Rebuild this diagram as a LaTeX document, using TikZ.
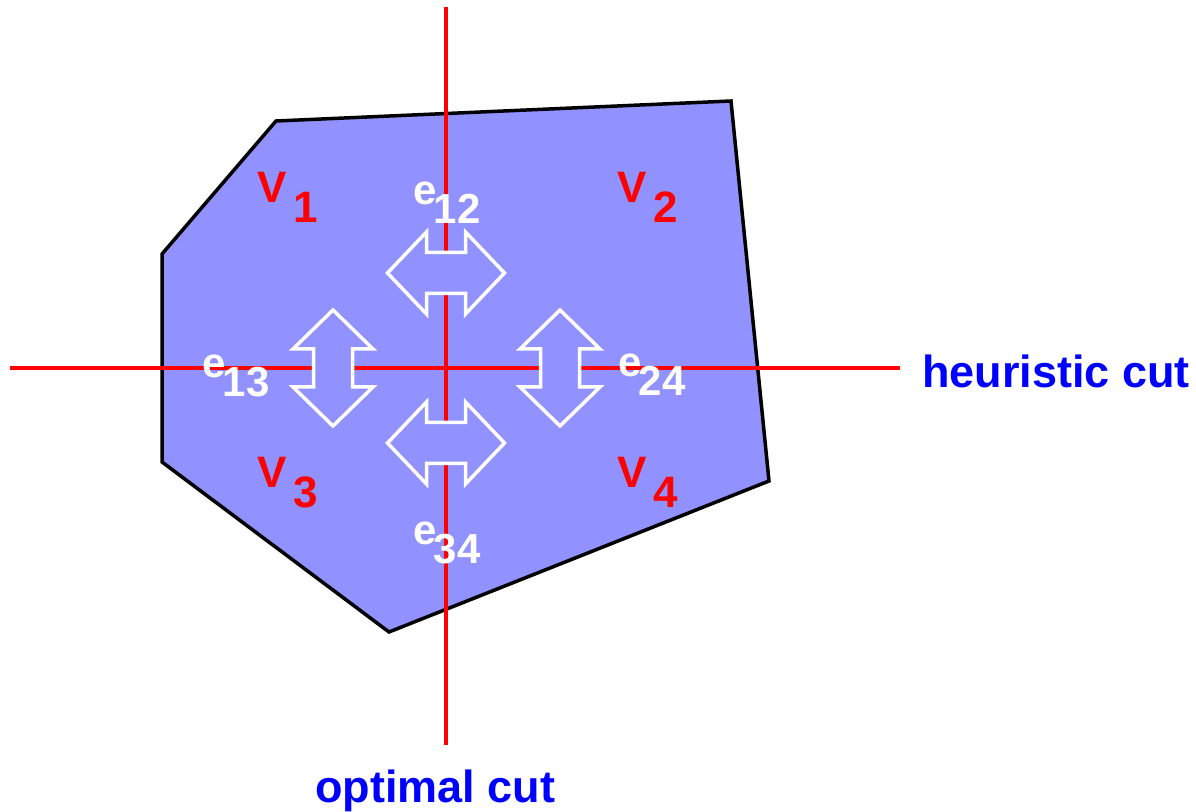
\documentclass[tikz,border=0pt]{standalone}
\usepackage{fontspec}
\setmainfont{Liberation Sans}
\usepackage{tikz}
\definecolor{cutRed}{HTML}{FF0000}
\definecolor{cutBlue}{HTML}{0000FF}
\definecolor{regFill}{HTML}{9191FF}
\tikzset{
  cutline/.style={cutRed,line width=2pt},
  xarrow/.style={draw=white,fill=regFill,line width=1.75pt,line join=miter},
  vlbl/.style={text=cutRed,font=\fontsize{22pt}{25pt}\selectfont\bfseries,anchor=base west,inner sep=0pt},
  elbl/.style={text=white,font=\fontsize{21pt}{24pt}\selectfont\bfseries,anchor=base west,inner sep=0pt},
  cutlbl/.style={text=cutBlue,font=\fontsize{22.5pt}{26pt}\selectfont\bfseries,anchor=base west,inner sep=0pt}
}
\newcommand{\vsub}[2]{#1\hspace{3.5pt}\raisebox{-10pt}{#2}}
\newcommand{\esub}[2]{#1\hspace{-1.5pt}\raisebox{-9.5pt}{#2}}

\begin{document}
\begin{tikzpicture}[x=0.5pt,y=-0.5pt]
\useasboundingbox (0,0) rectangle (1196,812);
% region
\filldraw[fill=regFill,draw=black,line width=1.75pt,line join=miter]
  (276,121) -- (731,101) -- (769,481) -- (389,632) -- (162,462) -- (162,254) -- cycle;
% the two cuts
\coordinate (optTop) at (446,7);
\coordinate (optBot) at (446,745);
\coordinate (heuL) at (10,368);
\coordinate (heuR) at (900,368);
\draw[cutline] (optTop) -- (optBot);
\draw[cutline] (heuL) -- (heuR);
% block arrows
\def\L{58.5}\def\H{19.5}\def\W{41}\def\S{20.5}
\foreach \cy in {273,443}
  \draw[xarrow,shift={(446,\cy)}] (-\L,0) -- (-\H,-\W) -- (-\H,-\S) -- (\H,-\S) -- (\H,-\W) -- (\L,0)
    -- (\H,\W) -- (\H,\S) -- (-\H,\S) -- (-\H,\W) -- cycle;
\def\L{58}\def\H{19}\def\W{40}\def\S{19.5}
\foreach \cx in {333,560}
  \draw[xarrow,shift={(\cx,368)}] (0,-\L) -- (-\W,-\H) -- (-\S,-\H) -- (-\S,\H) -- (-\W,\H) -- (0,\L)
    -- (\W,\H) -- (\S,\H) -- (\S,-\H) -- (\W,-\H) -- cycle;
% labels
\node[vlbl] (v1) at (257,203) {\vsub{V}{1}};
\node[vlbl] (v2) at (617,203) {\vsub{V}{2}};
\node[vlbl] (v3) at (257,488) {\vsub{V}{3}};
\node[vlbl] (v4) at (617,488) {\vsub{V}{4}};
\node[elbl] (e12) at (413,205) {\esub{e}{12}};
\node[elbl] (e13) at (202,378) {\esub{e}{13}};
\node[elbl] (e24) at (618,377) {\esub{e}{24}};
\node[elbl] (e34) at (413,545) {\esub{e}{34}};
\node[cutlbl] (heu) at (922,388) {heuristic cut};
\node[cutlbl] (opt) at (315,803) {optimal cut};
\end{tikzpicture}
\end{document}
